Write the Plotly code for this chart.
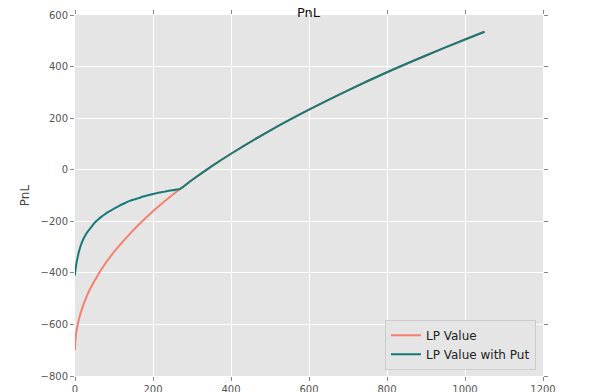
import plotly.graph_objects as go

# LP value (no hedge)
lp_price = [0, 1, 2, 5, 10, 20, 30, 40, 60, 80, 100, 130, 160, 200, 240, 270,
            300, 350, 400, 500, 600, 700, 800, 900, 1000, 1050]
lp_value = [-700, -662, -646, -615, -580, -530, -491, -459, -405, -359, -319, -266, -218, -161, -110, -74,
            -40, 13, 62, 152, 233, 308, 378, 443, 505, 535]

# LP value with put
put_price = [0, 0.5, 1, 2, 3, 5, 7, 10, 14, 18, 23, 27, 33, 40, 46, 52, 60, 70, 78, 90, 100, 110, 120,
             130, 140, 152, 163, 175, 185, 195, 206, 218, 230, 240, 250, 260, 270,
             300, 350, 400, 500, 600, 700, 800, 900, 1000, 1050]
put_value = [-410, -400, -392, -380, -370, -352, -338, -318, -298, -281, -264, -253, -239, -226, -214,
             -203, -192, -180, -171, -160, -151, -143, -135, -128, -121, -115, -110, -104, -100, -96,
             -92, -88, -85, -82, -80, -77, -74,
             -40, 13, 62, 152, 233, 308, 378, 443, 505, 535]

x_ticks = [0, 200, 400, 600, 800, 1000, 1200]
y_ticks = [-800, -600, -400, -200, 0, 200, 400, 600]

fig = go.Figure()
fig.add_trace(go.Scatter(x=lp_price, y=lp_value, mode="lines", name="LP Value",
                         line=dict(color="#F4806F", width=2, shape="spline", smoothing=0.8)))
fig.add_trace(go.Scatter(x=put_price, y=put_value, mode="lines", name="LP Value with Put",
                         line=dict(color="#167A76", width=2, shape="spline", smoothing=0.8)))

axis_common = dict(showgrid=True, gridcolor="white", gridwidth=1, zeroline=False,
                   ticks="outside", ticklen=4, tickcolor="#888888", tickwidth=1,
                   mirror="ticks", showline=False, automargin=False,
                   tickfont=dict(family="DejaVu Sans", size=10, color="#555555"))

fig.update_layout(
    width=604, height=392,
    margin=dict(l=67, r=69, t=7, b=24),
    paper_bgcolor="white", plot_bgcolor="#E5E5E5",
    font=dict(family="DejaVu Sans", color="#555555"),
    xaxis=dict(range=[0, 1200], tickvals=x_ticks, **axis_common),
    yaxis=dict(range=[-800, 600], tickvals=y_ticks,
               title=dict(text="PnL", font=dict(size=12, color="#444444"), standoff=8),
               **axis_common),
    legend=dict(x=0.985, y=0.017, xanchor="right", yanchor="bottom",
                bgcolor="#E5E5E5", bordercolor="#CCCCCC", borderwidth=1,
                font=dict(family="DejaVu Sans", size=12, color="#222222"),
                tracegroupgap=0),
    showlegend=True,
    annotations=[dict(text="PnL", x=0.5, y=1, xref="paper", yref="paper",
                      xanchor="center", yanchor="bottom", yshift=-7, showarrow=False,
                      font=dict(family="DejaVu Sans", size=13, color="#111111"))],
)

fig.write_html("out.html")
